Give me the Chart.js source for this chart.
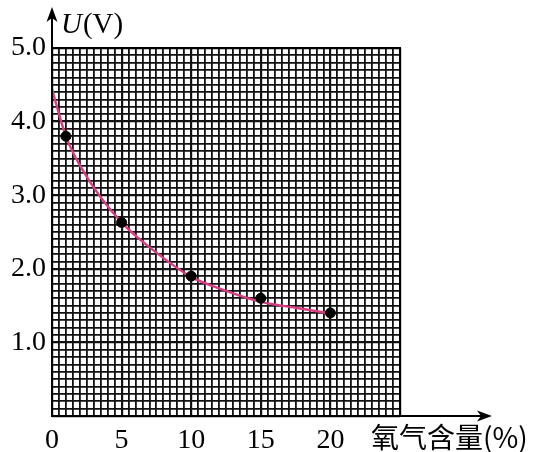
<!DOCTYPE html>
<html>
<head>
<meta charset="utf-8">
<script src="https://cdn.jsdelivr.net/npm/chart.js@4/dist/chart.umd.min.js"></script>
<style>
  html, body { margin: 0; padding: 0; background: #fff; }
  #wrap { width: 538px; height: 452px; }
</style>
</head>
<body>
<div id="wrap"><canvas id="chart" width="538" height="452"></canvas></div>
<script>
// measured points
const pointX = [1, 5, 10, 15, 20];
const pointU = [3.8, 2.63, 1.9, 1.6, 1.4];

// fitted curve
const curveX = [0, 1, 2.5, 5, 7.5, 10, 12.5, 15, 17.5, 19.8];
const curveU = [4.44, 3.8, 3.25, 2.63, 2.22, 1.89, 1.7, 1.55, 1.47, 1.4];

const xLabels = ['0', '5', '10', '15', '20'];
const yLabels = ['1.0', '2.0', '3.0', '4.0', '5.0'];
const xTitle = '氧气含量(%)';
const yTitle = ['U', '(V)'];

const serif = '"Liberation Serif", "Times New Roman", serif';
const isWhole = (v, step) => Math.abs(v / step - Math.round(v / step)) < 1e-6;

const axisArrows = {
    id: 'axisArrows',
    afterDraw(chart) {
        const ctx = chart.ctx;
        const a = chart.chartArea;
        ctx.save();
        ctx.strokeStyle = '#000';
        ctx.fillStyle = '#000';
        ctx.lineWidth = 2;
        // x axis
        ctx.beginPath();
        ctx.moveTo(a.left, a.bottom);
        ctx.lineTo(482, a.bottom);
        ctx.stroke();
        ctx.beginPath();
        ctx.moveTo(492, a.bottom);
        ctx.lineTo(477, a.bottom - 5.5);
        ctx.lineTo(481, a.bottom);
        ctx.lineTo(477, a.bottom + 5.5);
        ctx.closePath();
        ctx.fill();
        // y axis
        ctx.beginPath();
        ctx.moveTo(a.left, a.bottom);
        ctx.lineTo(a.left, 18);
        ctx.stroke();
        ctx.beginPath();
        ctx.moveTo(a.left, 7);
        ctx.lineTo(a.left - 5.5, 22);
        ctx.lineTo(a.left, 18);
        ctx.lineTo(a.left + 5.5, 22);
        ctx.closePath();
        ctx.fill();
        // frame
        ctx.lineWidth = 2;
        ctx.strokeRect(a.left, a.top, a.right - a.left, a.bottom - a.top);

        // titles
        ctx.textBaseline = 'alphabetic';
        ctx.textAlign = 'left';
        ctx.font = 'italic 29px ' + serif;
        ctx.fillText(yTitle[0], 61, 33);
        const w = ctx.measureText(yTitle[0]).width;
        ctx.font = '29px ' + serif;
        ctx.fillText(yTitle[1], 61 + w + 1, 33);

        ctx.font = '28px "Noto Sans CJK SC", sans-serif';
        ctx.fillText(xTitle, 371, 448);
        ctx.restore();
    }
};

new Chart(document.getElementById('chart'), {
    type: 'scatter',
    data: {
        datasets: [{
            label: 'curve',
            data: curveX.map((x, i) => ({ x, y: curveU[i] })),
            showLine: true,
            borderColor: '#d83d82',
            borderWidth: 2.4,
            pointRadius: 0,
            cubicInterpolationMode: 'monotone',
            fill: false,
            order: 2
        }, {
            label: 'points',
            data: pointX.map((x, i) => ({ x, y: pointU[i] })),
            showLine: false,
            pointRadius: 5,
            pointBackgroundColor: '#000',
            pointBorderColor: '#000',
            order: 1
        }]
    },
    options: {
        responsive: false,
        animation: false,
        layout: { padding: { top: 48, right: 138, left: 0, bottom: 0 } },
        plugins: { legend: { display: false }, tooltip: { enabled: false } },
        scales: {
            x: {
                type: 'linear',
                min: 0,
                max: 25,
                afterFit: s => { s.height = 36; },
                border: { display: false },
                grid: {
                    drawTicks: false,
                    color: '#111',
                    lineWidth: c => isWhole(c.tick.value, 5) ? 2.2 : 1.8
                },
                ticks: {
                    stepSize: 0.5,
                    autoSkip: false,
                    maxRotation: 0,
                    padding: 8,
                    color: '#000',
                    font: { family: serif, size: 28 },
                    callback: v => {
                        const i = xLabels.indexOf(String(v));
                        return i >= 0 ? xLabels[i] : '';
                    }
                }
            },
            y: {
                type: 'linear',
                min: 0,
                max: 5,
                afterFit: s => { s.width = 52; },
                border: { display: false },
                grid: {
                    drawTicks: false,
                    color: '#111',
                    lineWidth: c => isWhole(c.tick.value, 1) ? 2.2 : 1.8
                },
                ticks: {
                    stepSize: 0.1,
                    autoSkip: false,
                    padding: 6,
                    color: '#000',
                    font: { family: serif, size: 28 },
                    callback: v => {
                        if (!isWhole(v, 1)) return '';
                        const s = Number(v).toFixed(1);
                        return yLabels.includes(s) ? s : '';
                    }
                }
            }
        }
    },
    plugins: [axisArrows]
});
</script>
</body>
</html>
